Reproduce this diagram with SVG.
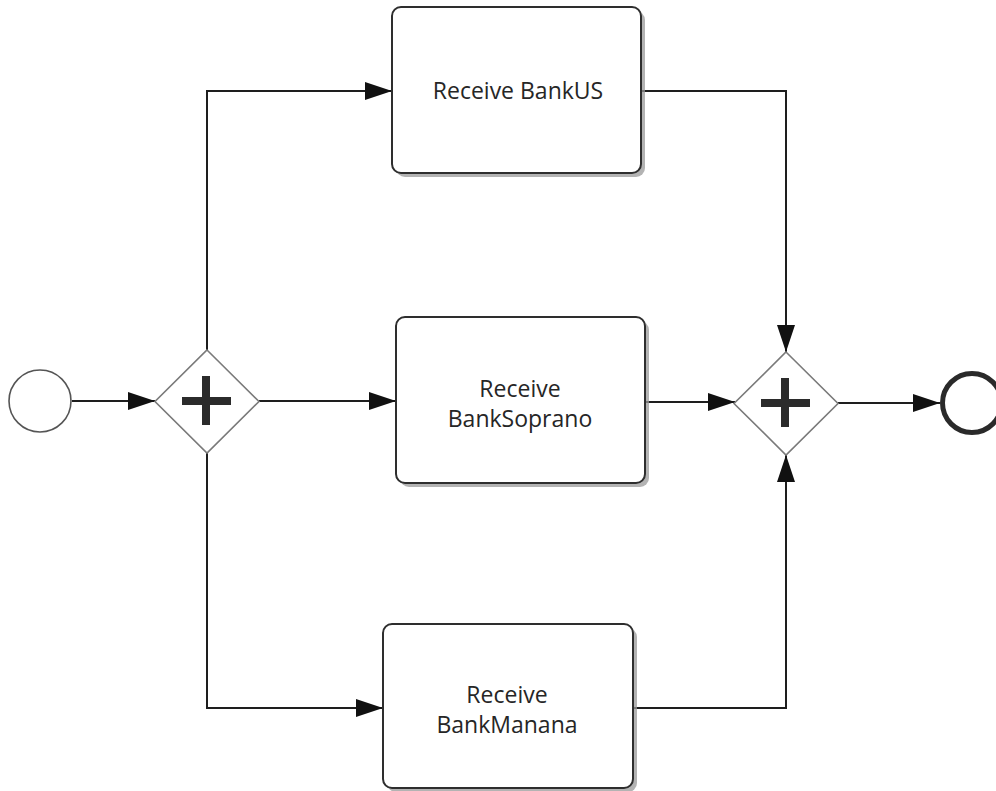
<svg xmlns="http://www.w3.org/2000/svg" width="996" height="791" viewBox="0 0 996 791">
  <style>
    .flow { fill: none; stroke: #1e1e1e; stroke-width: 2; }
    .task-shadow { fill: #9a9a9a; opacity: 0.75; }
    .task { fill: #ffffff; stroke: #2e2e2e; stroke-width: 2; }
    .gateway { fill: #ffffff; stroke: #7a7a7a; stroke-width: 1.6; }
    .plus { fill: #2b2b2b; }
    .label { font-family: "Open Sans", "Noto Sans", "Liberation Sans", sans-serif; font-size: 23px; fill: #262626; text-anchor: middle; }
  </style>
  <defs>
    <marker id="arrow" markerUnits="userSpaceOnUse" markerWidth="28" markerHeight="18" refX="27" refY="9" orient="auto">
      <path d="M0,0 L27,9 L0,18 Z" fill="#111111"/>
    </marker>
  </defs>

  <rect width="996" height="791" fill="#ffffff"/>

  <!-- sequence flows -->
  <g id="connectors">
    <path class="flow" d="M72,401 H155" marker-end="url(#arrow)"/>
    <path class="flow" d="M207,350 V91 H392" marker-end="url(#arrow)"/>
    <path class="flow" d="M259,401 H396" marker-end="url(#arrow)"/>
    <path class="flow" d="M207,453 V708 H383" marker-end="url(#arrow)"/>
    <path class="flow" d="M641,91 H786 V352" marker-end="url(#arrow)"/>
    <path class="flow" d="M645,402 H735" marker-end="url(#arrow)"/>
    <path class="flow" d="M633,708 H786 V455" marker-end="url(#arrow)"/>
    <path class="flow" d="M838,403 H940" marker-end="url(#arrow)"/>
  </g>

  <!-- start event -->
  <g id="start">
    <circle cx="40" cy="401" r="31" fill="#ffffff" stroke="#555555" stroke-width="1.6"/>
  </g>

  <!-- parallel split -->
  <g id="split">
    <polygon class="gateway" points="207,350 259,401.5 207,453 155,401.5"/>
    <rect class="plus" x="182" y="397" width="49" height="8"/>
    <rect class="plus" x="202" y="376" width="8" height="49"/>
  </g>

  <!-- tasks -->
  <g id="receive-bankus">
    <rect class="task-shadow" x="396" y="11" width="249" height="166" rx="9"/>
    <rect class="task" x="392" y="7" width="249" height="166" rx="9"/>
    <text class="label" x="518" y="99">Receive BankUS</text>
  </g>

  <g id="receive-banksoprano">
    <rect class="task-shadow" x="400" y="321" width="249" height="166" rx="9"/>
    <rect class="task" x="396" y="317" width="249" height="166" rx="9"/>
    <text class="label" x="520" y="397">Receive</text>
    <text class="label" x="520" y="427">BankSoprano</text>
  </g>

  <g id="receive-bankmanana">
    <rect class="task-shadow" x="387" y="628" width="250" height="164" rx="9"/>
    <rect class="task" x="383" y="624" width="250" height="164" rx="9"/>
    <text class="label" x="507" y="703">Receive</text>
    <text class="label" x="507" y="733">BankManana</text>
  </g>

  <!-- parallel join -->
  <g id="join">
    <polygon class="gateway" points="786,352 838,403.5 786,455 734,403.5"/>
    <rect class="plus" x="761" y="399" width="49" height="8"/>
    <rect class="plus" x="781" y="378" width="8" height="49"/>
  </g>

  <!-- end event -->
  <g id="end">
    <circle cx="972" cy="403" r="29.5" fill="#ffffff" stroke="#2a2a2a" stroke-width="5"/>
  </g>
</svg>
